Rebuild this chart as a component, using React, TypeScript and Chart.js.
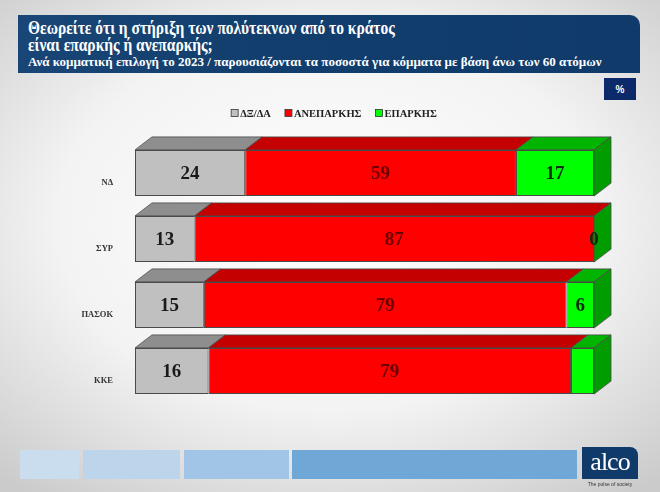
import React, { useEffect, useRef } from "react";
import { Chart, registerables } from "chart.js";

Chart.register(...registerables);

// ---- data ----
const categories = ["ΝΔ", "ΣΥΡ", "ΠΑΣΟΚ", "ΚΚΕ"];
const seriesNames = ["ΔΞ/ΔΑ", "ΑΝΕΠΑΡΚΗΣ", "ΕΠΑΡΚΗΣ"];
const dkValues = [24, 13, 15, 16];
const inadequateValues = [59, 87, 79, 79];
const adequateValues = [17, 0, 6, 5];
const adequateLabelShown = [true, true, true, false];
const axisMin = 0;
const axisMax = 100;

const titleLine1 = "Θεωρείτε ότι η στήριξη των πολύτεκνων από το κράτος";
const titleLine2 = "είναι επαρκής ή ανεπαρκής;";
const subtitle =
  "Ανά κομματική επιλογή το 2023 / παρουσιάζονται τα ποσοστά για κόμματα με βάση άνω των 60 ατόμων";

// ---- styles ----
const FONT = "'Liberation Serif', 'Times New Roman', serif";
const frontColors = ["#c0c0c0", "#ff0000", "#00ff00"];
const topColors = ["#8e8e8e", "#c40000", "#00b400"];
const sideColors = ["#8e8e8e", "#c40000", "#009c00"];
const labelColors = ["#1a1a1a", "#6a0000", "#0d2a0d"];
const EDGE = "#4a4a4a";
const DX = 17;
const DY = 13;

const depthPlugin = {
  id: "depth3d",
  beforeDatasetsDraw(chart: any) {
    const ctx = chart.ctx;
    ctx.save();
    ctx.lineWidth = 0.8;
    ctx.strokeStyle = EDGE;
    const n = chart.data.datasets.length;
    chart.data.datasets.forEach((_ds: any, di: number) => {
      const meta = chart.getDatasetMeta(di);
      meta.data.forEach((el: any) => {
        const { x, base, y, height } = el.getProps(["x", "base", "y", "height"], true);
        const top = y - height / 2;
        const bottom = y + height / 2;
        const x0 = Math.min(x, base);
        const x1 = Math.max(x, base);
        if (x1 - x0 > 0.1) {
          ctx.beginPath();
          ctx.moveTo(x0, top);
          ctx.lineTo(x0 + DX, top - DY);
          ctx.lineTo(x1 + DX, top - DY);
          ctx.lineTo(x1, top);
          ctx.closePath();
          ctx.fillStyle = topColors[di];
          ctx.fill();
          ctx.stroke();
        }
        if (di === n - 1) {
          ctx.beginPath();
          ctx.moveTo(x1, top);
          ctx.lineTo(x1 + DX, top - DY);
          ctx.lineTo(x1 + DX, bottom - DY);
          ctx.lineTo(x1, bottom);
          ctx.closePath();
          ctx.fillStyle = sideColors[di];
          ctx.fill();
          ctx.stroke();
        }
      });
    });
    ctx.restore();
  },
  afterDatasetsDraw(chart: any) {
    const ctx = chart.ctx;
    ctx.save();
    ctx.textAlign = "center";
    ctx.textBaseline = "middle";
    ctx.font = `bold 19px ${FONT}`;
    chart.data.datasets.forEach((ds: any, di: number) => {
      const meta = chart.getDatasetMeta(di);
      meta.data.forEach((el: any, i: number) => {
        if (di === 2 && !adequateLabelShown[i]) return;
        const { x, base, y } = el.getProps(["x", "base", "y"], true);
        ctx.fillStyle = labelColors[di];
        ctx.fillText(String(ds.data[i]), (x + base) / 2, y + 1);
      });
    });
    // category labels
    const meta0 = chart.getDatasetMeta(0);
    ctx.font = `bold 8.5px ${FONT}`;
    ctx.textAlign = "right";
    ctx.fillStyle = "#333333";
    meta0.data.forEach((el: any, i: number) => {
      const { y } = el.getProps(["y"], true);
      ctx.fillText(categories[i], chart.chartArea.left - 22, y + 10);
    });
    // legend
    ctx.font = `bold 10.5px ${FONT}`;
    ctx.textAlign = "left";
    const box = 7;
    const gap = 2;
    const itemGap = 14;
    const widths = seriesNames.map((s) => box + gap + ctx.measureText(s).width);
    const total = widths.reduce((a, b) => a + b, 0) + itemGap * (widths.length - 1);
    let lx = chart.width / 2 + 4 - total / 2;
    const ly = 113;
    seriesNames.forEach((s, k) => {
      ctx.fillStyle = frontColors[k];
      ctx.fillRect(lx, ly - box / 2, box, box);
      ctx.strokeStyle = "#333";
      ctx.lineWidth = 0.8;
      ctx.strokeRect(lx, ly - box / 2, box, box);
      ctx.fillStyle = "#222";
      ctx.fillText(s, lx + box + gap, ly + 1);
      lx += widths[k] + itemGap;
    });
    ctx.restore();
  },
};

export default function App() {
  const canvasRef = useRef<HTMLCanvasElement | null>(null);

  useEffect(() => {
    if (!canvasRef.current) return;
    const values = [dkValues, inadequateValues, adequateValues];
    const chart = new Chart(canvasRef.current, {
      type: "bar",
      data: {
        labels: categories,
        datasets: seriesNames.map((name, k) => ({
          label: name,
          data: values[k],
          backgroundColor: frontColors[k],
          borderColor: EDGE,
          borderWidth: 1,
          borderSkipped: false,
          barPercentage: 0.7,
          categoryPercentage: 1,
        })),
      },
      options: {
        indexAxis: "y",
        animation: false,
        responsive: true,
        maintainAspectRatio: false,
        layout: { padding: { left: 135, right: 66, top: 140, bottom: 88 } },
        scales: {
          x: { stacked: true, min: axisMin, max: axisMax, display: false },
          y: { stacked: true, display: false },
        },
        plugins: {
          legend: { display: false },
          tooltip: { enabled: false },
        },
      },
      plugins: [depthPlugin],
    } as any);
    return () => chart.destroy();
  }, []);

  const titleStyle: React.CSSProperties = {
    position: "absolute",
    left: 10,
    fontSize: 18,
    fontWeight: "bold",
    lineHeight: "18px",
    whiteSpace: "nowrap",
    transform: "scaleX(0.86)",
    transformOrigin: "0 0",
  };

  return (
    <div
      style={{
        position: "fixed",
        left: 0,
        top: 0,
        width: 660,
        height: 492,
        overflow: "hidden",
        background:
          "radial-gradient(ellipse 75% 70% at 50% 45%, #ffffff 0%, #f3f3f3 55%, #cbcbcb 100%)",
        fontFamily: FONT,
      }}
    >
      <div
        style={{
          position: "absolute",
          left: 18,
          top: 15,
          width: 622,
          height: 58,
          background: "linear-gradient(90deg, #1a4677 0%, #123e6d 40%, #0f3a69 100%)",
          borderTopRightRadius: 10,
          color: "#ffffff",
        }}
      >
        <div style={{ ...titleStyle, top: 4 }}>{titleLine1}</div>
        <div style={{ ...titleStyle, top: 21 }}>{titleLine2}</div>
        <div style={{ position: "absolute", left: 10, top: 40, fontSize: 13, fontWeight: "bold", lineHeight: "14px", whiteSpace: "nowrap" }}>
          {subtitle}
        </div>
      </div>
      <div
        style={{
          position: "absolute",
          left: 604,
          top: 78,
          width: 32,
          height: 22,
          background: "#0c2a6a",
          color: "#ffffff",
          fontSize: 10,
          fontWeight: "bold",
          fontFamily: "'Liberation Sans', Arial, sans-serif",
          display: "flex",
          alignItems: "center",
          justifyContent: "center",
        }}
      >
        %
      </div>
      <div style={{ position: "absolute", left: 0, top: 0, width: 660, height: 492 }}>
        <canvas ref={canvasRef} />
      </div>
      <div style={{ position: "absolute", left: 20, top: 450, width: 59, height: 29, background: "#c9ddef" }} />
      <div style={{ position: "absolute", left: 83, top: 450, width: 97, height: 29, background: "#bcd5eb" }} />
      <div style={{ position: "absolute", left: 184, top: 450, width: 105, height: 29, background: "#a0c5e6" }} />
      <div style={{ position: "absolute", left: 292, top: 450, width: 285, height: 29, background: "#6fa7d6" }} />
      <div
        style={{
          position: "absolute",
          left: 582,
          top: 447,
          width: 56,
          height: 32,
          background: "#0f3a69",
          borderTopRightRadius: 8,
          color: "#ffffff",
          fontSize: 26,
          letterSpacing: -1,
          lineHeight: "30px",
          textAlign: "center",
        }}
      >
        alco
      </div>
      <div
        style={{
          position: "absolute",
          left: 582,
          top: 481,
          width: 56,
          fontSize: 5,
          color: "#333",
          textAlign: "center",
          fontFamily: "'Liberation Sans', Arial, sans-serif",
        }}
      >
        The pulse of society
      </div>
    </div>
  );
}
